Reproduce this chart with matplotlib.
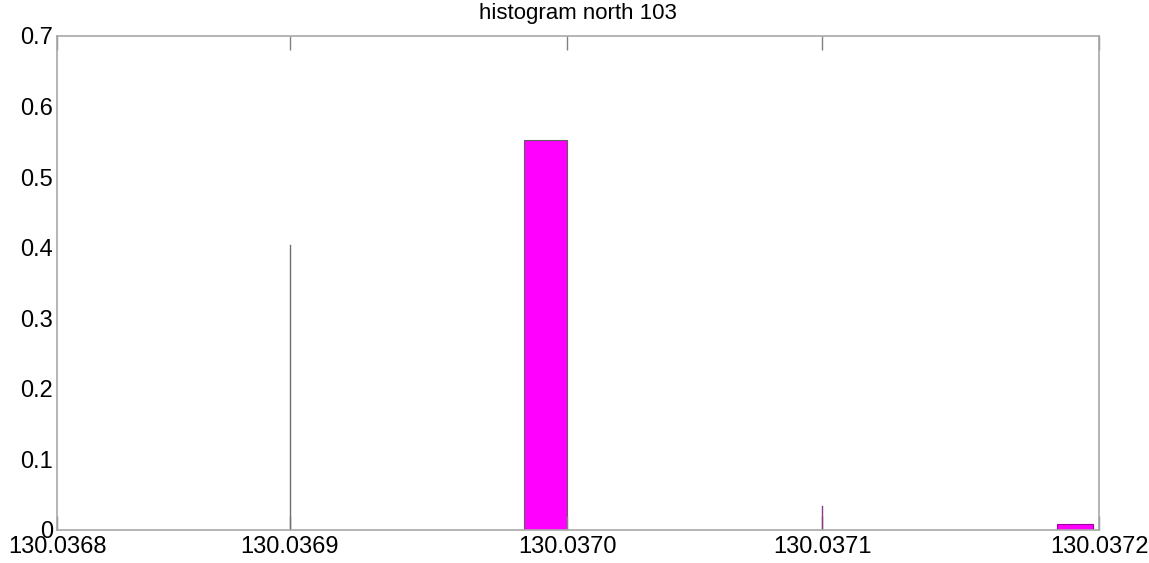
import matplotlib
matplotlib.use("Agg")
import matplotlib.pyplot as plt

plt.rcParams['font.family'] = ['Liberation Sans', 'DejaVu Sans']

title = "histogram north 103"
x_min, x_max = 130.0368, 130.0372
y_ticks = [0, 0.1, 0.2, 0.3, 0.4, 0.5, 0.6, 0.7]
y_tick_labels = ["0", "0.1", "0.2", "0.3", "0.4", "0.5", "0.6", "0.7"]
x_ticks = [130.0368, 130.0368894, 130.0369958, 130.0370937, 130.0372]
x_tick_labels = ["130.0368", "130.0369", "130.0370", "130.0371", "130.0372"]

# histogram bars: left edge, right edge, height
bar_left = [130.0368894, 130.0369793, 130.0370937, 130.0371839]
bar_right = [130.0368894, 130.0369958, 130.0370937, 130.0371977]
bar_height = [0.404, 0.552, 0.034, 0.008]
bar_edge = ["#707070", "#606060", "#8a3a8a", "#a000a0"]

fig = plt.figure(figsize=(11.49, 5.63), dpi=100)
ax = fig.add_axes([57/1149, 33/563, (1099-57)/1149, (530-36)/563])

for l, r, h, ec in zip(bar_left, bar_right, bar_height, bar_edge):
    if r - l <= 0:
        ax.plot([l, l], [0, h], color=ec, lw=1.0)
    else:
        ax.bar(l, h, width=r - l, align='edge', color='#ff00ff', edgecolor=ec, linewidth=0.8)

ax.set_xlim(x_min, x_max)
ax.set_ylim(0, 0.7)
ax.set_xticks(x_ticks)
ax.set_xticklabels(x_tick_labels, fontsize=17)
ax.set_yticks(y_ticks)
ax.set_yticklabels(y_tick_labels, fontsize=17)
ax.tick_params(axis='x', direction='in', length=10, width=1, color='#808080',
               top=True, bottom=True, pad=4)
ax.tick_params(axis='y', direction='in', length=0, pad=3)
for s in ax.spines.values():
    s.set_color('#a8a8a8')
    s.set_linewidth(1.2)
ax.set_title(title, fontsize=16, pad=12)

fig.savefig("out.png", dpi=100)
